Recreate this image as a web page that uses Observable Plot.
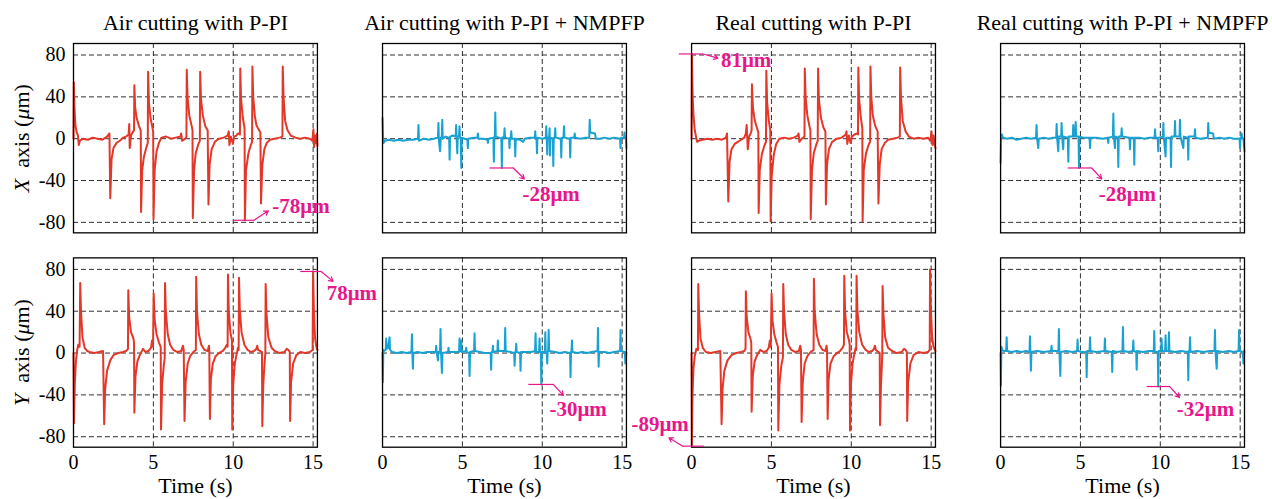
<!DOCTYPE html>
<html>
<head>
<meta charset="utf-8">
<script src="https://cdn.jsdelivr.net/npm/d3@7"></script>
<script src="https://cdn.jsdelivr.net/npm/@observablehq/plot@0.6"></script>
<style>
  html, body { margin: 0; padding: 0; background: #fff; }
  #chart { width: 1272px; height: 499px; }
</style>
</head>
<body>
<div id="chart"></div>
<script>
// ---------- categories & labels ----------
const titles = ["Air cutting with P-PI", "Air cutting with P-PI + NMPFP", "Real cutting with P-PI", "Real cutting with P-PI + NMPFP"];
const rows = ["X", "Y"];
const rowLabels = ["X axis (μm)", "Y axis (μm)"];
const xTicks = [0, 5, 10, 15];
const yTicks = [-80, -40, 0, 40, 80];

// ---------- series values [time (s), error (μm)] ----------
const airX_PPI = [[0,0],[0.02,54],[0.06,30],[0.12,13],[0.2,6],[0.28,3],[0.33,-6],[0.4,-2],[0.6,0],[0.9,-1],[1.2,1],[1.5,0],[1.8,-1],[2.1,2],[2.25,5],[2.3,-57],[2.38,-20],[2.5,-9],[2.7,-4],[2.9,-2],[3.1,1],[3.3,2],[3.45,4],[3.49,14],[3.52,-9],[3.6,3],[3.7,6],[3.79,8],[3.81,51],[3.86,30],[3.95,20],[4.1,12],[4.21,8],[4.23,-70],[4.3,-30],[4.4,-18],[4.55,-9],[4.65,-4],[4.67,64],[4.72,35],[4.82,20],[4.95,10],[4.99,6],[5.01,-77],[5.08,-30],[5.2,-12],[5.35,-4],[5.5,1],[5.8,2],[6.1,0],[6.4,1],[6.7,2],[6.74,5],[6.8,-2],[7.0,0],[7.07,2],[7.09,66],[7.14,40],[7.25,22],[7.4,12],[7.45,8],[7.47,-76],[7.55,-30],[7.65,-14],[7.8,-6],[7.91,-2],[7.93,64],[7.98,38],[8.1,22],[8.25,12],[8.4,8],[8.45,-63],[8.52,-25],[8.65,-10],[8.85,-3],[9.1,0],[9.4,1],[9.65,3],[9.72,7],[9.76,-6],[9.85,2],[9.98,-5],[10.05,2],[10.2,3],[10.3,5],[10.42,4],[10.44,67],[10.49,38],[10.6,20],[10.71,10],[10.73,-78],[10.8,-30],[10.95,-14],[11.1,-6],[11.18,-3],[11.2,69],[11.25,40],[11.35,22],[11.45,13],[11.55,10],[11.7,6],[11.74,-62],[11.82,-25],[11.95,-10],[12.1,-4],[12.3,-1],[12.6,0],[12.9,1],[13.08,2],[13.1,69],[13.15,40],[13.25,17],[13.4,8],[13.6,3],[13.9,1],[14.2,0],[14.5,1],[14.8,0],[14.95,-2],[15.02,9],[15.06,-8],[15.12,3],[15.18,-4],[15.25,5],[15.27,-7]];

const airX_NMPFP = [[0,20],[0.03,2],[0.08,-4],[0.15,-2],[0.4,-1],[0.7,-2],[1.0,-1],[1.3,-2],[1.6,-1],[1.9,-1],[2.22,0],[2.25,13],[2.28,-2],[2.6,0],[2.9,-1],[3.2,0],[3.47,1],[3.5,15],[3.53,-2],[3.6,-12],[3.65,1],[3.71,2],[3.74,18],[3.77,0],[3.95,2],[4.17,1],[4.2,-20],[4.23,2],[4.4,3],[4.58,2],[4.61,13],[4.64,0],[4.68,-14],[4.71,2],[4.79,3],[4.82,12],[4.85,1],[4.9,0],[4.93,-28],[4.96,1],[5.15,0],[5.31,-1],[5.34,-9],[5.37,0],[5.7,1],[5.94,1],[5.97,5],[6.0,0],[6.3,0],[6.57,-1],[6.6,-4],[6.63,0],[6.94,1],[6.97,-22],[7.0,1],[7.03,2],[7.06,25],[7.09,2],[7.3,1],[7.44,0],[7.47,-28],[7.5,1],[7.61,2],[7.64,10],[7.67,1],[7.92,0],[7.95,-9],[7.98,1],[8.03,1],[8.06,7],[8.09,0],[8.28,0],[8.31,-17],[8.34,0],[8.6,-1],[8.8,-3],[8.9,0],[9.2,1],[9.53,1],[9.56,7],[9.59,0],[9.64,0],[9.67,-14],[9.7,1],[10.0,0],[10.22,1],[10.25,12],[10.28,0],[10.31,-15],[10.34,1],[10.43,1],[10.46,10],[10.48,-16],[10.51,1],[10.66,0],[10.69,-26],[10.72,1],[10.78,1],[10.81,10],[10.84,1],[11.16,0],[11.19,-18],[11.22,1],[11.33,1],[11.36,12],[11.39,1],[11.72,0],[11.75,-18],[11.78,1],[12.0,1],[12.03,5],[12.06,1],[12.4,0],[12.7,1],[12.94,1],[12.97,18],[13.0,6],[13.3,5],[13.35,0],[13.6,0],[13.9,1],[14.2,0],[14.5,1],[14.87,0],[14.9,-9],[14.93,1],[15.12,1],[15.15,6],[15.18,1],[15.24,0],[15.27,-9]];

const realX_PPI = [[0,0],[0.02,81],[0.07,40],[0.12,23],[0.2,8],[0.28,2],[0.35,-3],[0.45,-2],[0.7,-1],[1.0,0],[1.3,-1],[1.6,0],[1.9,-1],[2.15,1],[2.22,5],[2.3,-60],[2.38,-22],[2.5,-10],[2.7,-5],[2.9,-3],[3.1,-1],[3.3,1],[3.4,5],[3.45,13],[3.52,-10],[3.6,2],[3.7,5],[3.76,8],[3.78,52],[3.84,30],[3.95,18],[4.1,10],[4.18,6],[4.2,-71],[4.27,-30],[4.4,-15],[4.55,-7],[4.66,-3],[4.68,65],[4.73,35],[4.83,18],[4.93,8],[4.95,-79],[5.02,-35],[5.15,-15],[5.3,-5],[5.5,0],[5.8,1],[6.1,0],[6.4,1],[6.65,3],[6.7,5],[6.75,-3],[6.9,0],[7.07,2],[7.09,67],[7.14,40],[7.25,22],[7.38,12],[7.44,8],[7.46,-77],[7.54,-30],[7.65,-14],[7.8,-6],[7.9,-2],[7.92,67],[7.97,38],[8.1,20],[8.25,11],[8.38,7],[8.41,-63],[8.48,-25],[8.6,-10],[8.8,-3],[9.1,0],[9.4,1],[9.65,4],[9.7,7],[9.75,-5],[9.85,3],[9.95,-4],[10.05,2],[10.2,4],[10.35,5],[10.42,4],[10.44,68],[10.49,38],[10.6,20],[10.69,10],[10.71,-79],[10.78,-30],[10.92,-14],[11.08,-6],[11.18,-3],[11.2,69],[11.25,40],[11.35,22],[11.5,12],[11.65,7],[11.7,-62],[11.78,-25],[11.9,-10],[12.1,-4],[12.3,-1],[12.6,0],[12.9,1],[13.04,2],[13.06,68],[13.11,40],[13.22,17],[13.4,7],[13.6,2],[13.9,0],[14.2,1],[14.5,0],[14.8,1],[14.95,-2],[15.02,7],[15.08,-6],[15.15,3],[15.2,-5],[15.27,-9]];

const realX_NMPFP = [[0,-23],[0.03,2],[0.08,4],[0.15,1],[0.4,0],[0.7,1],[1.0,-1],[1.3,0],[1.6,1],[1.9,0],[2.22,1],[2.25,13],[2.28,1],[2.36,-9],[2.39,0],[2.7,1],[3.0,0],[3.3,1],[3.48,1],[3.51,14],[3.54,1],[3.61,-12],[3.64,2],[3.79,2],[3.82,15],[3.85,2],[3.92,-10],[3.95,2],[4.21,1],[4.24,-22],[4.27,2],[4.52,2],[4.55,13],[4.58,2],[4.67,2],[4.7,16],[4.73,2],[4.88,2],[4.91,-28],[4.94,2],[5.2,1],[5.57,1],[5.6,-9],[5.63,1],[6.0,1],[6.4,0],[6.71,1],[6.74,-4],[6.77,1],[7.03,2],[7.06,24],[7.09,2],[7.16,-9],[7.19,2],[7.34,1],[7.37,-27],[7.4,2],[7.55,2],[7.58,10],[7.61,2],[8.07,1],[8.1,-10],[8.13,1],[8.34,1],[8.37,-25],[8.4,1],[8.7,1],[9.0,0],[9.3,1],[9.64,1],[9.67,9],[9.7,1],[9.84,1],[9.87,-12],[9.9,1],[10.16,2],[10.19,15],[10.22,1],[10.33,-17],[10.36,1],[10.64,1],[10.67,-27],[10.7,2],[10.89,2],[10.92,17],[10.95,2],[11.2,2],[11.23,18],[11.26,2],[11.44,-9],[11.47,2],[11.72,1],[11.75,-20],[11.78,2],[12.14,2],[12.17,9],[12.2,1],[12.5,0],[12.97,1],[13.0,15],[13.03,6],[13.3,5],[13.35,0],[13.7,1],[14.0,0],[14.3,1],[14.6,0],[14.96,0],[14.99,-9],[15.02,1],[15.06,1],[15.09,5],[15.12,1],[15.2,0],[15.27,-12]];

const airY_PPI = [[0,0],[0.03,-67],[0.08,-30],[0.15,-8],[0.22,2],[0.3,8],[0.38,6],[0.42,67],[0.47,40],[0.56,15],[0.7,5],[0.85,2],[1.0,1],[1.3,0],[1.6,1],[1.85,2],[1.92,-68],[1.98,-35],[2.1,-17],[2.3,-7],[2.5,-2],[2.8,0],[3.1,1],[3.3,2],[3.41,4],[3.43,60],[3.48,35],[3.6,20],[3.75,14],[3.79,10],[3.81,-57],[3.88,-22],[4.0,-8],[4.15,-2],[4.35,4],[4.5,1],[4.7,2],[4.85,5],[4.92,12],[4.98,6],[5.02,57],[5.08,32],[5.2,18],[5.35,10],[5.46,6],[5.48,-73],[5.55,-30],[5.65,-12],[5.71,-5],[5.73,67],[5.78,40],[5.9,18],[6.05,8],[6.25,3],[6.5,1],[6.75,2],[6.85,7],[6.9,3],[6.95,-65],[7.02,-28],[7.15,-10],[7.3,-3],[7.5,1],[7.66,3],[7.68,73],[7.73,40],[7.85,18],[8.0,8],[8.2,3],[8.4,2],[8.48,7],[8.5,3],[8.54,-63],[8.6,-25],[8.72,-10],[8.9,-3],[9.1,0],[9.35,2],[9.5,5],[9.6,8],[9.65,6],[9.67,75],[9.72,40],[9.82,20],[9.92,12],[9.94,-73],[10.0,-30],[10.1,-10],[10.2,-2],[10.3,5],[10.34,3],[10.36,72],[10.41,42],[10.52,20],[10.7,8],[10.9,3],[11.1,1],[11.3,2],[11.45,4],[11.5,7],[11.55,3],[11.7,2],[11.8,1],[11.82,-70],[11.88,-30],[11.96,-10],[12.01,0],[12.03,66],[12.08,38],[12.2,15],[12.4,5],[12.6,2],[12.9,0],[13.2,1],[13.35,4],[13.45,3],[13.54,1],[13.56,-65],[13.62,-28],[13.75,-10],[13.95,-2],[14.2,1],[14.5,0],[14.8,1],[14.97,3],[15.0,78],[15.05,40],[15.12,15],[15.2,6],[15.27,3]];

const airY_NMPFP = [[0,0],[0.02,-28],[0.05,3],[0.1,2],[0.2,3],[0.23,14],[0.26,4],[0.35,5],[0.44,15],[0.47,3],[0.6,1],[0.9,0],[1.2,1],[1.5,0],[1.81,1],[1.84,18],[1.87,0],[1.9,-15],[1.93,0],[2.2,1],[2.5,0],[2.8,1],[3.1,1],[3.33,1],[3.36,7],[3.39,1],[3.47,-7],[3.5,1],[3.6,2],[3.63,23],[3.66,2],[3.72,-19],[3.75,0],[4.1,1],[4.13,5],[4.16,1],[4.5,1],[4.79,1],[4.82,14],[4.85,2],[4.9,2],[4.93,12],[4.96,1],[5.21,2],[5.24,5],[5.27,1],[5.42,0],[5.45,-22],[5.48,1],[5.73,2],[5.76,19],[5.79,2],[6.1,1],[6.4,0],[6.77,0],[6.8,-16],[6.83,1],[6.88,1],[6.91,7],[6.94,1],[7.19,2],[7.22,12],[7.25,2],[7.65,2],[7.68,24],[7.71,2],[8.0,1],[8.24,0],[8.27,-12],[8.3,1],[8.34,1],[8.37,9],[8.4,1],[8.61,0],[8.64,-17],[8.67,1],[9.0,1],[9.3,1],[9.55,2],[9.58,19],[9.61,1],[9.8,1],[9.83,14],[9.86,1],[9.91,0],[9.94,-30],[9.97,1],[10.16,1],[10.19,20],[10.22,1],[10.28,0],[10.31,-10],[10.34,1],[10.37,2],[10.4,22],[10.43,2],[10.8,1],[11.1,0],[11.4,1],[11.74,0],[11.77,-23],[11.8,1],[11.83,2],[11.86,12],[11.89,1],[12.2,0],[12.5,1],[12.8,0],[13.1,1],[13.46,2],[13.49,24],[13.51,2],[13.53,-13],[13.56,1],[13.9,1],[14.2,0],[14.5,1],[14.87,2],[14.9,22],[14.93,2],[15.17,1],[15.2,-10],[15.23,1],[15.27,0]];

const realY_PPI = [[0,0],[0.02,-89],[0.06,-40],[0.12,-15],[0.2,-3],[0.3,4],[0.4,3],[0.42,66],[0.47,38],[0.56,14],[0.7,5],[0.9,1],[1.2,0],[1.5,1],[1.8,2],[1.88,-68],[1.94,-35],[2.05,-17],[2.25,-7],[2.5,-2],[2.8,0],[3.1,1],[3.3,2],[3.38,4],[3.4,59],[3.45,35],[3.56,20],[3.7,13],[3.74,9],[3.76,-56],[3.83,-22],[3.95,-8],[4.1,-2],[4.3,3],[4.5,1],[4.7,2],[4.83,5],[4.9,12],[4.96,6],[5.01,57],[5.06,32],[5.18,18],[5.32,10],[5.41,6],[5.43,-74],[5.5,-30],[5.62,-12],[5.72,-4],[5.74,66],[5.79,40],[5.9,18],[6.05,8],[6.25,3],[6.5,1],[6.72,2],[6.8,7],[6.85,3],[6.89,-66],[6.96,-28],[7.08,-10],[7.25,-3],[7.45,1],[7.64,3],[7.66,71],[7.71,40],[7.83,18],[8.0,8],[8.2,3],[8.38,2],[8.45,7],[8.48,3],[8.52,-63],[8.58,-25],[8.7,-10],[8.9,-3],[9.1,0],[9.3,2],[9.45,5],[9.54,8],[9.56,74],[9.61,40],[9.72,20],[9.86,12],[9.9,8],[9.92,-74],[9.98,-30],[10.08,-10],[10.2,0],[10.28,5],[10.31,3],[10.33,74],[10.38,42],[10.5,20],[10.68,8],[10.9,3],[11.1,1],[11.3,2],[11.42,4],[11.48,7],[11.54,3],[11.7,1],[11.78,0],[11.8,-69],[11.86,-30],[11.92,-10],[11.94,0],[11.96,64],[12.01,38],[12.12,15],[12.3,5],[12.55,2],[12.85,0],[13.15,1],[13.3,4],[13.4,3],[13.48,1],[13.5,-65],[13.56,-28],[13.7,-10],[13.9,-2],[14.2,1],[14.5,0],[14.8,1],[14.91,3],[14.93,80],[14.98,42],[15.06,15],[15.15,6],[15.27,2]];

const realY_NMPFP = [[0,0],[0.02,-31],[0.05,6],[0.1,3],[0.2,2],[0.35,2],[0.38,15],[0.41,2],[0.7,1],[1.0,2],[1.3,1],[1.6,2],[1.81,1],[1.84,16],[1.87,1],[1.9,-17],[1.93,1],[2.3,2],[2.7,1],[3.16,2],[3.19,7],[3.22,2],[3.62,2],[3.65,23],[3.68,2],[3.74,-22],[3.77,1],[4.1,2],[4.5,1],[4.79,2],[4.82,13],[4.85,2],[5.1,1],[5.36,1],[5.39,-23],[5.42,2],[5.57,2],[5.6,15],[5.63,2],[6.0,1],[6.5,2],[6.53,14],[6.56,2],[6.96,1],[6.99,-18],[7.02,2],[7.3,1],[7.63,2],[7.66,25],[7.69,2],[8.0,1],[8.28,2],[8.31,12],[8.34,2],[8.49,1],[8.52,-16],[8.55,2],[8.9,1],[9.3,2],[9.59,2],[9.62,21],[9.65,1],[9.84,1],[9.87,-32],[9.9,2],[10.05,2],[10.08,14],[10.11,2],[10.3,2],[10.33,17],[10.36,2],[10.51,2],[10.54,20],[10.57,2],[10.9,1],[11.3,2],[11.72,1],[11.75,-26],[11.78,2],[11.83,2],[11.86,15],[11.89,1],[12.3,2],[12.7,1],[13.1,2],[13.39,2],[13.42,22],[13.45,2],[13.53,-15],[13.56,2],[13.9,1],[14.3,2],[14.6,1],[14.9,2],[14.93,22],[14.96,2],[15.17,1],[15.2,-10],[15.23,2],[15.27,1]];

// ---------- annotations (values in data units) ----------
const annoLabels = ["-78μm", "78μm", "-28μm", "-30μm", "81μm", "-89μm", "-28μm", "-32μm"];
const annoCol = [0, 0, 1, 1, 2, 2, 3, 3];
const annoRow = ["X", "Y", "X", "Y", "X", "Y", "X", "Y"];
const annoLineX1 = [10.0, 14.2, 6.69, 9.13, -0.8, 0.77, 4.2, 9.15];
const annoLineX2 = [11.3, 15.5, 8.19, 10.69, 0.71, -0.55, 5.7, 10.59];
const annoValue = [-78, 78, -28, -30, 81, -89, -28, -32];
const annoArrowX = [12.2, 16.25, 8.88, 11.32, 1.65, -1.42, 6.33, 11.2];
const annoArrowY = [-69, 68.5, -38.5, -40.5, 77, -81, -38.5, -42.5];
const annoTextX = [12.45, 15.85, 8.76, 10.45, 1.84, -0.17, 6.14, 11.03];
const annoTextY = [-65, 57, -53, -54, 75, -68, -53, -54];

// ---------- build tables ----------
const seriesList = [
  {col: 0, row: "X", method: "P-PI", data: airX_PPI},
  {col: 1, row: "X", method: "NMPFP", data: airX_NMPFP},
  {col: 2, row: "X", method: "P-PI", data: realX_PPI},
  {col: 3, row: "X", method: "NMPFP", data: realX_NMPFP},
  {col: 0, row: "Y", method: "P-PI", data: airY_PPI},
  {col: 1, row: "Y", method: "NMPFP", data: airY_NMPFP},
  {col: 2, row: "Y", method: "P-PI", data: realY_PPI},
  {col: 3, row: "Y", method: "NMPFP", data: realY_NMPFP}
];
const table = seriesList.flatMap(s => s.data.map(([t, v]) => ({
  col: titles[s.col], row: s.row, method: s.method, key: s.col + s.row, t, v
})));
const annos = annoLabels.map((label, i) => ({
  label, col: titles[annoCol[i]], row: annoRow[i],
  lx1: annoLineX1[i], lx2: annoLineX2[i], ly: annoValue[i],
  ax: annoArrowX[i], ay: annoArrowY[i], tx: annoTextX[i], ty: annoTextY[i]
}));

const RED = "#e3372a", BLUE = "#17a2d3", PINK = "#e8168c";
const SERIF = "'Liberation Serif', 'Times New Roman', Times, serif";

const chart = Plot.plot({
  width: 1272,
  height: 499,
  marginLeft: 73,
  marginRight: 28,
  marginTop: 43,
  marginBottom: 52.3,
  style: {fontFamily: SERIF, fontSize: "20px", color: "#000", background: "#fff", overflow: "visible"},
  x: {domain: [0, 15.27]},
  y: {domain: [-90, 91]},
  fx: {domain: titles, paddingInner: 0.2107, paddingOuter: 0, round: false, axis: null},
  fy: {domain: rows, paddingInner: 0.1168, paddingOuter: 0, round: false, axis: null},
  color: {domain: ["P-PI", "NMPFP"], range: [RED, BLUE]},
  marks: [
    Plot.gridY(yTicks, {stroke: "#1a1a1a", strokeOpacity: 0.9, strokeWidth: 1, strokeDasharray: "5,3"}),
    Plot.gridX(xTicks.slice(1), {stroke: "#1a1a1a", strokeOpacity: 0.9, strokeWidth: 1, strokeDasharray: "5,3"}),
    Plot.line(table, {x: "t", y: "v", fx: "col", fy: "row", z: "key", stroke: "method", strokeWidth: 2, strokeLinejoin: "round"}),
    Plot.frame({stroke: "#000", strokeWidth: 1.3}),
    Plot.axisY(yTicks, {anchor: "left", facetAnchor: "left", tickSize: 0, tickPadding: 8, tickFormat: d => String(d), fontSize: 20, label: null}),
    Plot.axisX(xTicks, {anchor: "bottom", facetAnchor: "bottom", tickSize: 0, tickPadding: 8, fontSize: 20, label: null}),
    Plot.text(titles, {fx: d => d, fy: () => "X", text: d => d, frameAnchor: "top", lineAnchor: "middle", textAnchor: "middle", dy: -20.5, fontSize: 22}),
    Plot.text(titles, {fx: d => d, fy: () => "Y", text: () => "Time (s)", frameAnchor: "bottom", lineAnchor: "middle", textAnchor: "middle", dy: 39, fontSize: 22}),
    Plot.text(rows, {fx: () => titles[0], fy: d => d, text: (d, i) => rowLabels[i], frameAnchor: "left", lineAnchor: "middle", textAnchor: "middle", dx: -52, rotate: -90, fontSize: 22}),
    Plot.link(annos, {fx: "col", fy: "row", x1: "lx1", x2: "lx2", y1: "ly", y2: "ly", stroke: PINK, strokeWidth: 1.2}),
    Plot.arrow(annos, {fx: "col", fy: "row", x1: "lx2", y1: "ly", x2: "ax", y2: "ay", stroke: PINK, strokeWidth: 1.2, headLength: 6}),
    Plot.text(annos.filter(a => a.tx > 0), {fx: "col", fy: "row", x: "tx", y: "ty", text: "label", textAnchor: "start", lineAnchor: "middle", fill: PINK, fontWeight: "bold", fontSize: 21}),
    Plot.text(annos.filter(a => a.tx <= 0), {fx: "col", fy: "row", x: "tx", y: "ty", text: "label", textAnchor: "end", lineAnchor: "middle", fill: PINK, fontWeight: "bold", fontSize: 21})
  ]
});

// italic variable symbols in the y-axis titles
chart.querySelectorAll("text").forEach(el => {
  const s = el.textContent;
  if (rowLabels.includes(s)) {
    while (el.firstChild) el.removeChild(el.firstChild);
    const ns = "http://www.w3.org/2000/svg";
    const parts = [[s[0], true], ["  axis (", false], ["μ", true], ["m)", false]];
    el.setAttribute("xml:space", "preserve");
    for (const [txt, it] of parts) {
      const ts = document.createElementNS(ns, "tspan");
      ts.textContent = txt;
      if (it) ts.setAttribute("font-style", "italic");
      el.appendChild(ts);
    }
  }
});

document.getElementById("chart").appendChild(chart);
</script>
</body>
</html>
